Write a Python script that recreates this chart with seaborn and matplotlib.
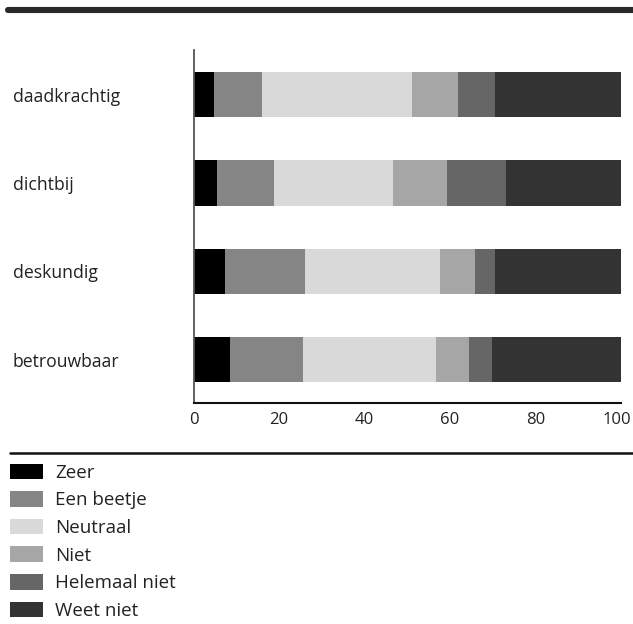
import pandas as pd
import seaborn as sns
import matplotlib.pyplot as plt
from matplotlib.lines import Line2D
from matplotlib.patches import Patch
from matplotlib.transforms import ScaledTranslation

categories = ["daadkrachtig", "dichtbij", "deskundig", "betrouwbaar"]
series = ["Zeer", "Een beetje", "Neutraal", "Niet", "Helemaal niet", "Weet niet"]
zeer = [4.7, 5.4, 7.3, 8.5]
een_beetje = [11.3, 13.4, 18.8, 17.1]
neutraal = [35.1, 27.8, 31.5, 31.2]
niet = [10.8, 12.7, 8.3, 7.7]
helemaal_niet = [8.7, 13.8, 4.7, 5.4]
weet_niet = [29.4, 26.9, 29.4, 30.1]
x_ticks = [0, 20, 40, 60, 80, 100]

colors = ["#000000", "#858585", "#d9d9d9", "#a6a6a6", "#666666", "#333333"]

sns.set_style("white")
plt.rcParams['font.family'] = ['Open Sans', 'DejaVu Sans']

df = pd.DataFrame({"categorie": categories, "Zeer": zeer, "Een beetje": een_beetje,
                   "Neutraal": neutraal, "Niet": niet, "Helemaal niet": helemaal_niet,
                   "Weet niet": weet_niet})
# cumulative sums so each layer is drawn over the next one
cum = df[series].cumsum(axis=1)

W, H = 633, 624
fig = plt.figure(figsize=(W / 100, H / 100), dpi=100)
ax = fig.add_axes([193.5 / W, 1 - 403 / H, (620.7 - 193.5) / W, (403 - 50) / H])

for s, c in reversed(list(zip(series, colors))):
    sns.barplot(ax=ax, x=cum[s], y=df["categorie"], color=c, orient="h",
                width=0.51, saturation=1, linewidth=0)

ax.set_xlim(0, 100)
ax.set_ylim(3.49, -0.505)
ax.set_xlabel("")
ax.set_ylabel("")
ax.set_xticks(x_ticks)
ax.tick_params(axis="x", direction="in", length=8, width=1.2, color="#222222",
               labelsize=12, pad=6.5, labelcolor="#222222")
ax.tick_params(axis="y", left=False, length=0, labelsize=12.7, pad=130.2, labelcolor="#222222")
for t in ax.get_yticklabels():
    t.set_horizontalalignment("left")
# last tick label sits a bit inward so it stays on the canvas
last = ax.get_xticklabels()[-1]
last.set_transform(last.get_transform() + ScaledTranslation(-3 / 72, 0, fig.dpi_scale_trans))

sns.despine(ax=ax)
ax.spines["left"].set_color("#555555")
ax.spines["left"].set_linewidth(1.3)
ax.spines["bottom"].set_color("#111111")
ax.spines["bottom"].set_linewidth(1.5)

# header and separator rules
fig.add_artist(Line2D([8 / W, 1], [1 - 10 / H, 1 - 10 / H], color="#2a2a2a", linewidth=4.4))
fig.add_artist(Line2D([10 / W, 1], [1 - 452.7 / H, 1 - 452.7 / H], color="#111111", linewidth=1.8))

handles = [Patch(facecolor=c, edgecolor="none") for c in colors]
fig.legend(handles, series, loc="upper left", bbox_to_anchor=(10 / W, 1 - 463.5 / H),
           frameon=False, fontsize=13.5, handlelength=1.76, handleheight=0.9,
           handletextpad=0.64, labelspacing=0.50, borderpad=0, borderaxespad=0,
           labelcolor="#222222")

fig.savefig("out.png", dpi=100)
